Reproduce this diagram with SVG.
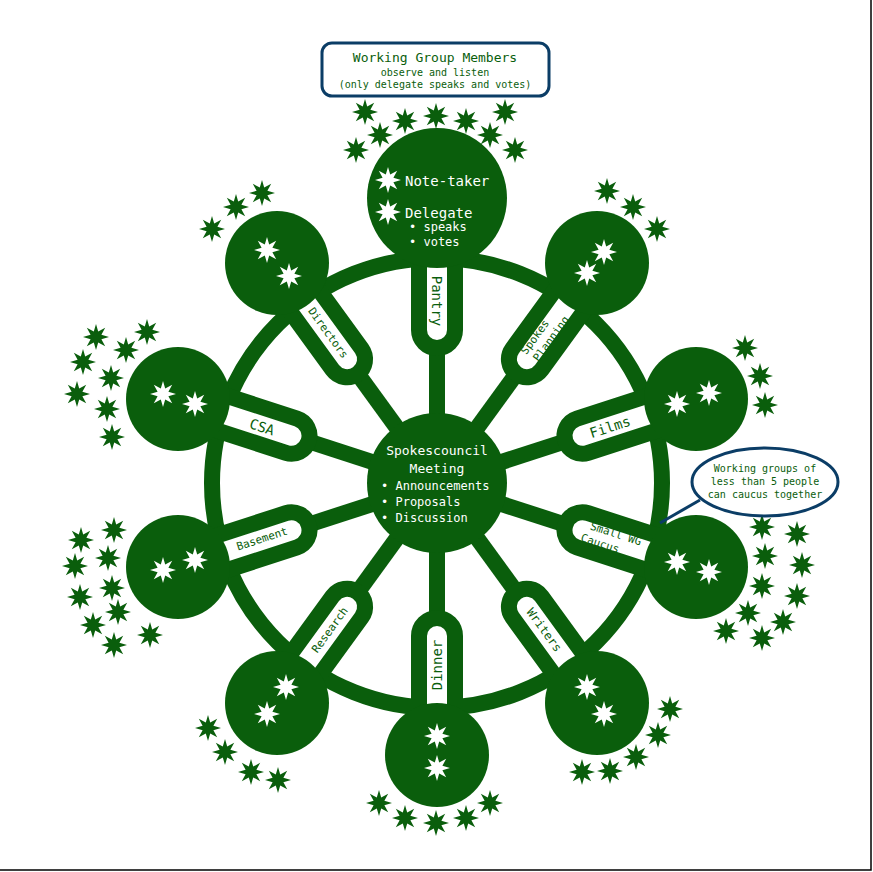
<svg xmlns="http://www.w3.org/2000/svg" xmlns:xlink="http://www.w3.org/1999/xlink" width="873" height="872" viewBox="0 0 873 872">
<style>
.g{fill:#0a5e0c}
.gs{fill:#0a5e0c}
.ws{fill:#fff}
.pill{fill:#fff;stroke:#0a5e0c;stroke-width:16}
.sp{stroke:#0a5e0c;stroke-width:16}
.t{font-family:"DejaVu Sans Mono","Liberation Mono",monospace;fill:#0a5e0c;text-anchor:middle;dominant-baseline:central}
.tw{font-family:"DejaVu Sans Mono","Liberation Mono",monospace;fill:#fff}
.cb{fill:#fff;stroke:#0b3d66;stroke-width:3}
</style>
<defs>
<path id="st" d="M13,0L5.4,2.2L9.2,9.2L2.2,5.4L0,13L-2.2,5.4L-9.2,9.2L-5.4,2.2L-13,0L-5.4,-2.2L-9.2,-9.2L-2.2,-5.4L0,-13L2.2,-5.4L9.2,-9.2L5.4,-2.2Z"/>
</defs>
<rect width="873" height="872" fill="#fff"/>
<path d="M871,0V870H0" fill="none" stroke="#000" stroke-width="1.5"/>
<g id="connectors">
<circle cx="437" cy="483" r="225" fill="none" class="sp"/>
<g transform="translate(437,483)">
<line x1="0" y1="0" x2="140" y2="0" class="sp" transform="rotate(-90)"/>
<line x1="0" y1="0" x2="140" y2="0" class="sp" transform="rotate(-54)"/>
<line x1="0" y1="0" x2="140" y2="0" class="sp" transform="rotate(-18)"/>
<line x1="0" y1="0" x2="140" y2="0" class="sp" transform="rotate(18)"/>
<line x1="0" y1="0" x2="140" y2="0" class="sp" transform="rotate(54)"/>
<line x1="0" y1="0" x2="140" y2="0" class="sp" transform="rotate(90)"/>
<line x1="0" y1="0" x2="140" y2="0" class="sp" transform="rotate(126)"/>
<line x1="0" y1="0" x2="140" y2="0" class="sp" transform="rotate(162)"/>
<line x1="0" y1="0" x2="140" y2="0" class="sp" transform="rotate(198)"/>
<line x1="0" y1="0" x2="140" y2="0" class="sp" transform="rotate(234)"/>
<rect x="135" y="-18" width="130" height="36" rx="18" class="pill" transform="rotate(-90)"/>
<rect x="135" y="-18" width="130" height="36" rx="18" class="pill" transform="rotate(-54)"/>
<rect x="135" y="-18" width="130" height="36" rx="18" class="pill" transform="rotate(-18)"/>
<rect x="135" y="-18" width="130" height="36" rx="18" class="pill" transform="rotate(18)"/>
<rect x="135" y="-18" width="130" height="36" rx="18" class="pill" transform="rotate(54)"/>
<rect x="135" y="-18" width="130" height="36" rx="18" class="pill" transform="rotate(90)"/>
<rect x="135" y="-18" width="130" height="36" rx="18" class="pill" transform="rotate(126)"/>
<rect x="135" y="-18" width="130" height="36" rx="18" class="pill" transform="rotate(162)"/>
<rect x="135" y="-18" width="130" height="36" rx="18" class="pill" transform="rotate(198)"/>
<rect x="135" y="-18" width="130" height="36" rx="18" class="pill" transform="rotate(234)"/>
</g>
</g>
<g id="center">
<circle cx="437" cy="483" r="70" class="g"/>
<text class="tw" x="437" y="455" font-size="13" text-anchor="middle">Spokescouncil</text>
<text class="tw" x="437" y="473" font-size="13" text-anchor="middle">Meeting</text>
<text class="tw" x="381" y="490" font-size="12">•  Announcements</text>
<text class="tw" x="381" y="506" font-size="12">•  Proposals</text>
<text class="tw" x="381" y="522" font-size="12">•  Discussion</text>
</g>
<g id="pantry">
<circle cx="437" cy="198" r="70" class="g"/>
<use href="#st" x="388" y="180" class="ws"/>
<use href="#st" x="388" y="212" class="ws"/>
<text class="tw" x="405" y="186" font-size="14">Note-taker</text>
<text class="tw" x="405" y="218" font-size="14">Delegate</text>
<text class="tw" x="409" y="231" font-size="12">•  speaks</text>
<text class="tw" x="409" y="246" font-size="12">•  votes</text>
<text class="t" font-size="14" transform="translate(437,301) rotate(90)">Pantry</text>
<g class="gs"><use href="#st" x="365" y="112"/><use href="#st" x="405" y="121"/><use href="#st" x="436" y="116"/><use href="#st" x="466" y="121"/><use href="#st" x="505" y="112"/><use href="#st" x="380" y="135"/><use href="#st" x="490" y="135"/><use href="#st" x="356" y="150"/><use href="#st" x="515" y="150"/></g>
</g>
<g id="spokes-planning">
<circle cx="597" cy="263" r="52" class="g"/>
<use href="#st" x="604" y="252" class="ws"/><use href="#st" x="587" y="273" class="ws"/>
<text class="t" font-size="11" transform="translate(544,336) rotate(-54)"><tspan x="-6" dy="-7">Spokes</tspan><tspan x="2" dy="14">Planning</tspan></text>
<g class="gs"><use href="#st" x="607" y="191"/><use href="#st" x="633" y="207"/><use href="#st" x="657" y="229"/></g>
</g>
<g id="films">
<circle cx="696" cy="399" r="52" class="g"/>
<use href="#st" x="677" y="404" class="ws"/><use href="#st" x="709" y="393" class="ws"/>
<text class="t" font-size="14" transform="translate(610,427) rotate(-18)">Films</text>
<g class="gs"><use href="#st" x="745" y="348"/><use href="#st" x="760" y="376"/><use href="#st" x="765" y="405"/></g>
</g>
<g id="small-wg">
<circle cx="696" cy="567" r="52" class="g"/>
<use href="#st" x="677" y="562" class="ws"/><use href="#st" x="709" y="572" class="ws"/>
<text class="t" font-size="11" transform="translate(610,539) rotate(18)"><tspan x="4" dy="-7">Small WG</tspan><tspan x="-8" dy="14">Caucus</tspan></text>
<g class="gs"><use href="#st" x="762" y="527"/><use href="#st" x="797" y="534"/><use href="#st" x="765" y="556"/><use href="#st" x="802" y="565"/><use href="#st" x="762" y="586"/><use href="#st" x="797" y="596"/><use href="#st" x="748" y="613"/><use href="#st" x="783" y="622"/><use href="#st" x="726" y="631"/><use href="#st" x="762" y="638"/></g>
</g>
<g id="writers">
<circle cx="597" cy="703" r="52" class="g"/>
<use href="#st" x="587" y="687" class="ws"/><use href="#st" x="604" y="714" class="ws"/>
<text class="t" font-size="12" transform="translate(544,630) rotate(54)">Writers</text>
<g class="gs"><use href="#st" x="670" y="709"/><use href="#st" x="658" y="735"/><use href="#st" x="636" y="757"/><use href="#st" x="610" y="771"/><use href="#st" x="582" y="772"/></g>
</g>
<g id="dinner">
<circle cx="437" cy="755" r="52" class="g"/>
<use href="#st" x="437" y="736" class="ws"/><use href="#st" x="437" y="768" class="ws"/>
<text class="t" font-size="14" transform="translate(437,665) rotate(-90)">Dinner</text>
<g class="gs"><use href="#st" x="379" y="803"/><use href="#st" x="405" y="818"/><use href="#st" x="436" y="823"/><use href="#st" x="466" y="818"/><use href="#st" x="490" y="803"/></g>
</g>
<g id="research">
<circle cx="277" cy="703" r="52" class="g"/>
<use href="#st" x="286" y="687" class="ws"/><use href="#st" x="267" y="714" class="ws"/>
<text class="t" font-size="11" transform="translate(330,630) rotate(-54)">Research</text>
<g class="gs"><use href="#st" x="208" y="728"/><use href="#st" x="225" y="752"/><use href="#st" x="251" y="772"/><use href="#st" x="278" y="780"/></g>
</g>
<g id="basement">
<circle cx="178" cy="567" r="52" class="g"/>
<use href="#st" x="163" y="570" class="ws"/><use href="#st" x="195" y="560" class="ws"/>
<text class="t" font-size="11" transform="translate(262,539) rotate(-18)">Basement</text>
<g class="gs"><use href="#st" x="81" y="540"/><use href="#st" x="114" y="530"/><use href="#st" x="108" y="558"/><use href="#st" x="75" y="566"/><use href="#st" x="112" y="588"/><use href="#st" x="80" y="597"/><use href="#st" x="118" y="612"/><use href="#st" x="93" y="625"/><use href="#st" x="150" y="635"/><use href="#st" x="114" y="645"/></g>
</g>
<g id="csa">
<circle cx="178" cy="399" r="52" class="g"/>
<use href="#st" x="163" y="394" class="ws"/><use href="#st" x="195" y="404" class="ws"/>
<text class="t" font-size="14" transform="translate(262,427) rotate(18)">CSA</text>
<g class="gs"><use href="#st" x="96" y="337"/><use href="#st" x="147" y="332"/><use href="#st" x="126" y="350"/><use href="#st" x="83" y="362"/><use href="#st" x="111" y="378"/><use href="#st" x="77" y="394"/><use href="#st" x="107" y="409"/><use href="#st" x="112" y="437"/></g>
</g>
<g id="directors">
<circle cx="277" cy="263" r="52" class="g"/>
<use href="#st" x="267" y="250" class="ws"/><use href="#st" x="289" y="276" class="ws"/>
<text class="t" font-size="11" transform="translate(328,333) rotate(54)">Directors</text>
<g class="gs"><use href="#st" x="212" y="229"/><use href="#st" x="236" y="207"/><use href="#st" x="262" y="193"/></g>
</g>
<g id="members-note">
<rect x="322" y="43" width="227" height="53" rx="10" class="cb"/>
<text class="t" x="435" y="57" font-size="13">Working Group Members</text>
<text class="t" x="435" y="72" font-size="10">observe and listen</text>
<text class="t" x="435" y="84" font-size="10">(only delegate speaks and votes)</text>
</g>
<g id="caucus-note">
<path d="M660,523L700,500" stroke="#0b3d66" stroke-width="3"/>
<ellipse cx="765" cy="482" rx="73" ry="34" class="cb"/>
<text class="t" x="765" y="468" font-size="10">Working groups of</text>
<text class="t" x="765" y="481" font-size="10">less than 5 people</text>
<text class="t" x="765" y="494" font-size="10">can caucus together</text>
</g>
</svg>
